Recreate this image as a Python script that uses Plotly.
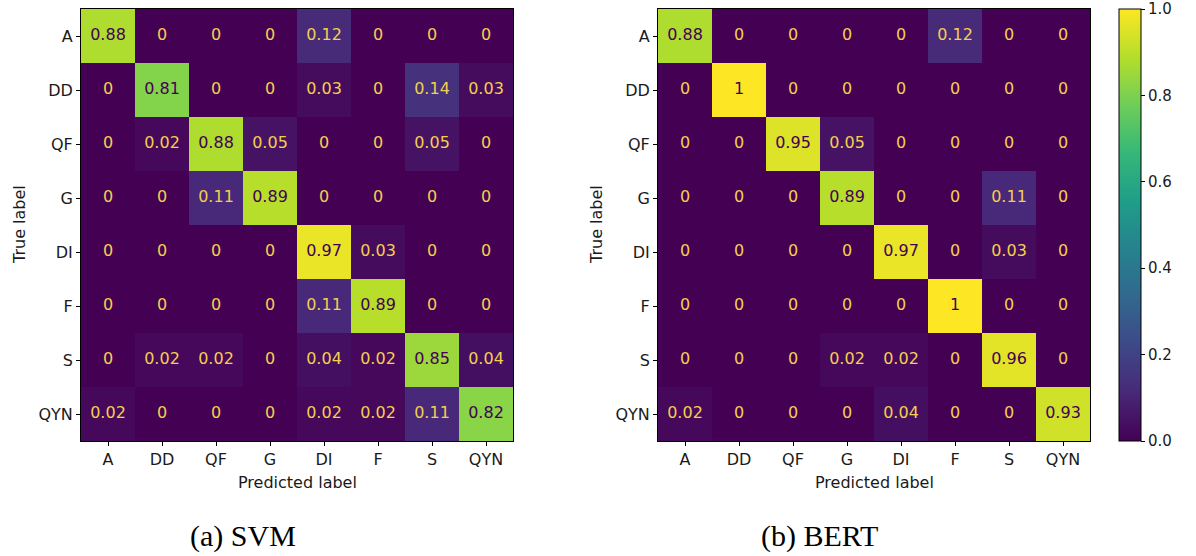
import plotly.graph_objects as go

labels = ["A", "DD", "QF", "G", "DI", "F", "S", "QYN"]

svm = [
    [0.88, 0, 0, 0, 0.12, 0, 0, 0],
    [0, 0.81, 0, 0, 0.03, 0, 0.14, 0.03],
    [0, 0.02, 0.88, 0.05, 0, 0, 0.05, 0],
    [0, 0, 0.11, 0.89, 0, 0, 0, 0],
    [0, 0, 0, 0, 0.97, 0.03, 0, 0],
    [0, 0, 0, 0, 0.11, 0.89, 0, 0],
    [0, 0.02, 0.02, 0, 0.04, 0.02, 0.85, 0.04],
    [0.02, 0, 0, 0, 0.02, 0.02, 0.11, 0.82],
]

bert = [
    [0.88, 0, 0, 0, 0, 0.12, 0, 0],
    [0, 1, 0, 0, 0, 0, 0, 0],
    [0, 0, 0.95, 0.05, 0, 0, 0, 0],
    [0, 0, 0, 0.89, 0, 0, 0.11, 0],
    [0, 0, 0, 0, 0.97, 0, 0.03, 0],
    [0, 0, 0, 0, 0, 1, 0, 0],
    [0, 0, 0, 0.02, 0.02, 0, 0.96, 0],
    [0.02, 0, 0, 0, 0.04, 0, 0, 0.93],
]

captions = ["(a) SVM", "(b) BERT"]
cbar_ticks = [0, 0.2, 0.4, 0.6, 0.8, 1.0]

W, H = 1196, 556
def px(x):
    return x / W
def py(y):
    return 1 - y / H

FONT = "DejaVu Sans"
FS = 16
TXT = "#1a1a1a"
LOW_TXT = "#f4cf4f"
HIGH_TXT = "#440154"

panels = [
    dict(data=svm, x0=81, x1=513, cap_x=243, title_x=20),
    dict(data=bert, x0=658, x1=1090, cap_x=819, title_x=597),
]
top, bottom = 9, 441

fig = go.Figure()
annotations = []
for i, p in enumerate(panels):
    xa = "x" if i == 0 else "x2"
    ya = "y" if i == 0 else "y2"
    fig.add_trace(go.Heatmap(
        z=p["data"], x=list(range(8)), y=list(range(8)),
        coloraxis="coloraxis", xaxis=xa, yaxis=ya, hoverinfo="skip",
    ))
    xs, ys, ts, cs = [], [], [], []
    for r in range(8):
        for c in range(8):
            v = p["data"][r][c]
            xs.append(c)
            ys.append(r)
            ts.append(f"{v:.2g}")
            cs.append(HIGH_TXT if v >= 0.5 else LOW_TXT)
    fig.add_trace(go.Scatter(
        x=xs, y=ys, text=ts, mode="text", xaxis=xa, yaxis=ya,
        textfont=dict(family=FONT, size=FS, color=cs),
        showlegend=False, hoverinfo="skip",
    ))
    axcommon = dict(
        tickmode="array", tickvals=list(range(8)), ticktext=labels,
        ticks="outside", ticklen=4, tickwidth=1, tickcolor="black",
        tickfont=dict(family=FONT, size=FS, color=TXT),
        showline=True, mirror=True, linecolor="black", linewidth=1,
        showgrid=False, zeroline=False,
    )
    fig.update_layout(**{
        ("xaxis" if i == 0 else "xaxis2"): dict(
            axcommon, domain=[px(p["x0"]), px(p["x1"])], range=[-0.5, 7.5],
            anchor=ya),
        ("yaxis" if i == 0 else "yaxis2"): dict(
            axcommon, domain=[py(bottom), py(top)], range=[7.5, -0.5],
            anchor=xa),
    })
    cx = (p["x0"] + p["x1"]) / 2
    annotations.append(dict(
        text="Predicted label", x=px(cx), y=py(482), xref="paper", yref="paper",
        showarrow=False, xanchor="center", yanchor="middle",
        font=dict(family=FONT, size=FS, color=TXT)))
    annotations.append(dict(
        text="True label", x=px(p["title_x"]), y=py((top + bottom) / 2),
        xref="paper", yref="paper", showarrow=False, textangle=-90,
        xanchor="center", yanchor="middle",
        font=dict(family=FONT, size=FS, color=TXT)))
    annotations.append(dict(
        text=captions[i], x=px(p["cap_x"]), y=py(536), xref="paper", yref="paper",
        showarrow=False, xanchor="center", yanchor="middle",
        font=dict(family="Liberation Serif", size=30, color="black")))

fig.update_layout(
    width=W, height=H,
    margin=dict(l=0, r=0, t=0, b=0),
    paper_bgcolor="white", plot_bgcolor="white",
    showlegend=False,
    annotations=annotations,
    coloraxis=dict(
        colorscale="Viridis", cmin=0, cmax=1,
        colorbar=dict(
            x=px(1119), xanchor="left", xpad=0,
            y=py((top + bottom) / 2), yanchor="middle", ypad=0,
            len=bottom - top, lenmode="pixels",
            thickness=22, thicknessmode="pixels",
            outlinewidth=1, outlinecolor="black",
            tickmode="array", tickvals=cbar_ticks,
            ticktext=[f"{t:.1f}" for t in cbar_ticks],
            ticks="outside", ticklen=4, tickcolor="black",
            tickfont=dict(family=FONT, size=15, color=TXT),
        ),
    ),
)

fig.write_html("out.html")
